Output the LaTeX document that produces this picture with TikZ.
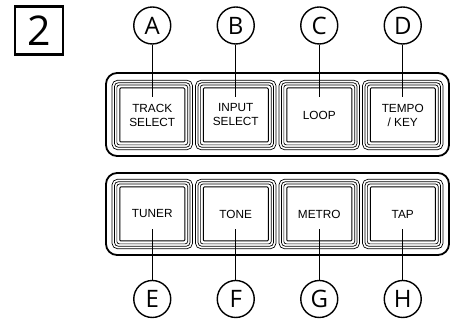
\documentclass[tikz,border=0pt]{standalone}
\usepackage{fontspec}
\setsansfont{Liberation Sans}
\newfontfamily\callfont{Open Sans}
\begin{document}
\begin{tikzpicture}[x=1pt,y=1pt,
  panel/.style={draw, line width=1.8pt, rounded corners=11pt},
  keyface/.style={draw, line width=1pt, rounded corners=1pt, minimum width=65pt, minimum height=54pt, inner sep=0pt, align=center, font=\sffamily\fontsize{11.8}{14}\selectfont},
  keyring/.style={line width=0.7pt},
  callout/.style={circle, draw, line width=1.4pt, minimum size=37pt, inner sep=0pt, font=\callfont\fontsize{24}{24}\selectfont},
  lead/.style={line width=1.1pt}]
\useasboundingbox (0,0) rectangle (456,323);
\node[draw, line width=2.4pt, minimum size=48pt, inner sep=0pt, font=\callfont\fontsize{41}{41}\selectfont] (num) at (39,292.5) {2};
% the two panels
\draw[panel] (106,167) rectangle (449,250);
\draw[panel] (106,68) rectangle (449,150);
% top row of keys
\foreach \x/\n/\t in {152.25/A/{TRACK\\SELECT}, 235.75/B/{INPUT\\SELECT}, 319.25/C/{LOOP}, 402.75/D/{TEMPO\\/ KEY}} {
  \node[keyface] (key\n) at (\x,208) {\t};
  \foreach \d in {2.4,4.8,7.2}
    \draw[keyring, rounded corners=1pt+0.6*\d] ([shift={(-\d,\d)}]key\n.north west) rectangle ([shift={(\d,-\d)}]key\n.south east);
  \node[callout] (c\n) at (\x,297.5) {\n};
  \coordinate (p\n) at (\x,226);
  \draw[lead] (c\n) -- (p\n);
}
% bottom row of keys
\foreach \x/\n/\t in {152.25/E/TUNER, 235.75/F/TONE, 319.25/G/METRO, 402.75/H/TAP} {
  \node[keyface] (key\n) at (\x,109) {\t};
  \foreach \d in {2.4,4.8,7.2}
    \draw[keyring, rounded corners=1pt+0.6*\d] ([shift={(-\d,\d)}]key\n.north west) rectangle ([shift={(\d,-\d)}]key\n.south east);
  \node[callout] (c\n) at (\x,24) {\n};
  \coordinate (p\n) at (\x,94);
  \draw[lead] (c\n) -- (p\n);
}
\end{tikzpicture}
\end{document}
